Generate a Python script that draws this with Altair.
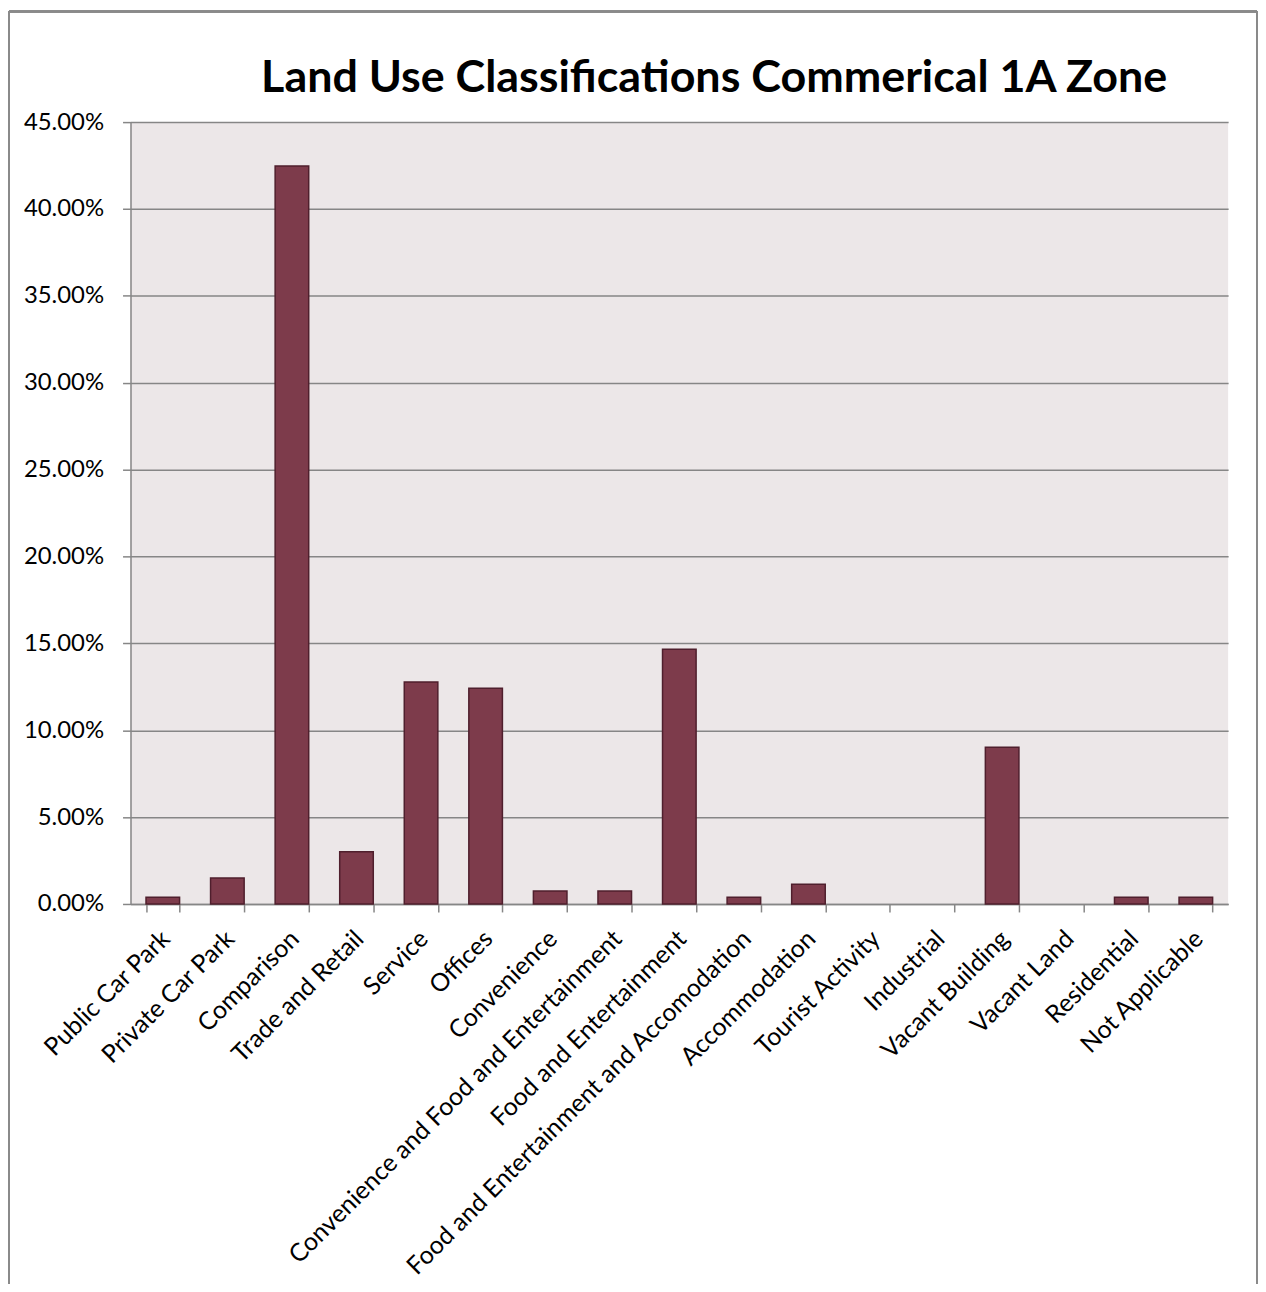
import altair as alt
import pandas as pd

categories = [
    "Public Car Park", "Private Car Park", "Comparison", "Trade and Retail",
    "Service", "Offices", "Convenience",
    "Convenience and Food and Entertainment", "Food and Entertainment",
    "Food and Entertainment and Accomodation", "Accommodation",
    "Tourist Activity", "Industrial", "Vacant Building", "Vacant Land",
    "Residential", "Not Applicable",
]
values = [0.0038, 0.0150, 0.4248, 0.0301, 0.1278, 0.1241, 0.0075, 0.0075,
          0.1466, 0.0038, 0.0113, 0.0, 0.0, 0.0902, 0.0, 0.0038, 0.0038]

df = pd.DataFrame({"category": categories, "value": values})

FONT = "Lato"
W, H = 1102, 785

bars = alt.Chart(df).mark_bar(
    color="#7D3B4B", stroke="#4F1F2D", strokeWidth=1.5
).encode(
    x=alt.X("category:N", sort=None, title=None,
            scale=alt.Scale(paddingInner=0.48, paddingOuter=0.24),
            axis=alt.Axis(labelAngle=-45, labelFontSize=25, labelFont=FONT,
                          labelColor="#000000", tickBand="extent", tickSize=8,
                          tickColor="#868686", domainColor="#868686",
                          tickWidth=1.5, domainWidth=1.5, labelPadding=14,
                          labelOffset=-6, labelLimit=700, grid=False)),
    y=alt.Y("value:Q", title=None,
            scale=alt.Scale(domain=[0, 0.45], nice=False),
            axis=alt.Axis(format=".2%", values=[i * 0.05 for i in range(10)],
                          labelFontSize=24, labelFont=FONT, labelColor="#000000",
                          tickSize=8, tickColor="#868686", domainColor="#868686",
                          tickWidth=1.5, domainWidth=1.5, labelPadding=19,
                          grid=True, gridColor="#868686", gridWidth=1.5)),
    strokeOpacity=alt.condition("datum.value > 0", alt.value(1), alt.value(0)),
)

frame_color = "#8A8A8A"
frame_top = alt.Chart(df).mark_rule(color=frame_color, strokeWidth=1.5).encode(
    x=alt.value(-122), x2=alt.value(1131), y=alt.value(-111))
frame_left = alt.Chart(df).mark_rule(color=frame_color, strokeWidth=1.5).encode(
    x=alt.value(-122), y=alt.value(-111), y2=alt.value(1166))
frame_right = alt.Chart(df).mark_rule(color=frame_color, strokeWidth=1.5).encode(
    x=alt.value(1131), y=alt.value(-111), y2=alt.value(1166))

chart = alt.layer(bars, frame_top, frame_left, frame_right).properties(
    width=W, height=H,
    padding=0,
    background="#FFFFFF",
    title=alt.TitleParams(
        "Land Use  Classifications Commerical 1A Zone",
        font=FONT, fontSize=45, fontWeight="bold", color="#000000",
        anchor="middle", dx=35, offset=-127, baseline="alphabetic"),
).configure_view(fill="#ECE7E8", stroke=None)

chart.save("out.html", embed_options={"renderer": "svg", "actions": False})
